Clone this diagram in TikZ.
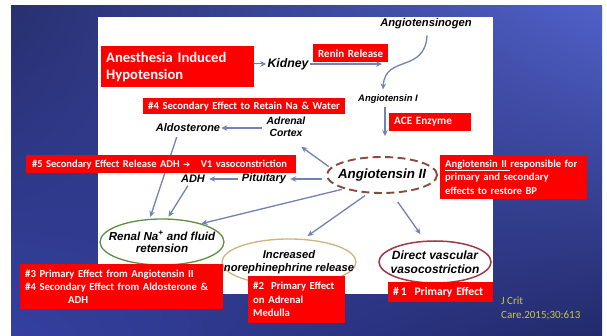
\documentclass[tikz,border=0pt]{standalone}
\usepackage{fontspec}
\setmainfont{Liberation Sans}
\newfontfamily\calib{Carlito}
\newfontfamily\djv{DejaVu Sans}
\usetikzlibrary{arrows.meta,shapes.geometric,calc,shadings}
\definecolor{arrc}{HTML}{7282B4}
\definecolor{citec}{HTML}{C8CC30}
\definecolor{ellbrown}{HTML}{8A4A3E}
\definecolor{ellgreen}{HTML}{5E8E40}
\definecolor{elltan}{HTML}{D2B27E}
\definecolor{ellred}{HTML}{A23848}
\definecolor{bgul}{HTML}{283070}
\definecolor{bgur}{HTML}{5060C8}
\definecolor{bgll}{HTML}{3440A0}
\definecolor{bglr}{HTML}{222A6A}
\tikzset{
  redbox/.style={fill=red, text=white, anchor=north west, align=left, inner xsep=5pt, inner ysep=0pt},
  lbl/.style={font=\bfseries\itshape\fontsize{#1}{#1}\selectfont, inner sep=1pt},
  arr/.style={draw=arrc, line width=1.3pt, -{Stealth[length=6pt,width=5.5pt]}},
  ell/.style={ellipse, inner sep=0pt},
}
\begin{document}
\begin{tikzpicture}[x=1pt,y=-1pt]
\useasboundingbox (0,0) rectangle (607,336);
\fill[white] (0,0) rectangle (607,336);
\shade[upper left=bgul, upper right=bgur, lower left=bgll, lower right=bglr]
  (11,6) rectangle (602,336);
\fill[white] (98,17) rectangle (493,294);

% ellipses (shape only) and their texts
\node[ell, draw=ellbrown, line width=1.9pt, dash pattern=on 8pt off 4.5pt, minimum width=110pt, minimum height=36pt]
  (ang2) at (382,175) {};
\node[lbl=13.3] (ang2txt) at (ang2) {Angiotensin II};
\node[ell, draw=ellgreen, line width=1.3pt, minimum width=124pt, minimum height=46pt] (renal) at (162,242) {};
\node[lbl=11.6, align=center] (renaltxt) at (renal) {Renal Na\textsuperscript{+} and fluid\\[1pt]retension};
\node[ell, draw=elltan, line width=1.3pt, minimum width=134pt, minimum height=46pt] (norepi) at (289,262) {};
\node[lbl=11.2, align=center] (norepitxt) at (norepi) {Increased\\[2pt]norephinephrine release};
\node[ell, draw=ellred, line width=1.5pt, minimum width=112pt, minimum height=42pt] (direct) at (435,262) {};
\node[lbl=12, align=center] (directtxt) at (direct) {Direct vascular\\[2pt]vasocostriction};

% text labels
\node[lbl=12.3] (kidney) at (288,64) {Kidney};
\node[lbl=11.2] (angiogen) at (426,24) {Angiotensinogen};
\node[lbl=9.4] (ang1) at (388,99) {Angiotensin I};
\node[lbl=10.4, align=center] (adrenal) at (286,127) {Adrenal\\[2pt]Cortex};
\node[lbl=11] (aldo) at (188,128) {Aldosterone};
\node[lbl=11] (adh) at (193,179) {ADH};
\node[lbl=11] (pit) at (264,179) {Pituitary};
\coordinate (reninend) at (382,64);

% arrows
\draw[arr] (kidney.east) -- (reninend);
\draw[arr] (angiogen.south) ++(1,5) .. controls ++(-2,38) and ++(2,-35) .. ($(ang1.north)+(-5,-4)$);
\draw[arr, shorten <=2pt, shorten >=20pt] ($(ang1.south)+(-3,0)$) -- ($(ang1.south |- ang2.north)+(-3,0)$);
\draw[arr, shorten <=3pt] (adrenal.west |- aldo) -- (aldo.east);
\draw[arr, shorten <=2pt, shorten >=1pt] (ang2.172) -- ($(adrenal.south east)+(-6,8)$);
\draw[arr, shorten <=4pt, shorten >=3pt] (ang2.west |- pit) -- (pit.east);
\draw[arr, shorten <=3pt, shorten >=3pt] (pit.west) -- (adh.east);
\draw[arr, shorten <=2pt] (ang2.200) -- (renal.25);
\draw[arr, shorten <=4pt, shorten >=5pt] (ang2.233) -- (norepi.58);
\draw[arr, shorten <=10pt, shorten >=8pt] (ang2.-62) -- (direct.115);
\draw[arr, shorten <=4pt, shorten >=2pt] ($(aldo.south)+(-10,0)$) -- (renal.118);
\draw[arr, shorten <=2pt, shorten >=2pt] ($(adh.south)+(-4,0)$) -- (renal.77);

% red boxes
\node[redbox, text width=143pt, minimum height=41pt, font=\calib\bfseries\fontsize{14.6}{17}\selectfont]
  (anes) at (101,46) {\mbox{Anesthesia Induced}\\Hypotension};
\draw[arr, line width=1pt] (anes.east |- kidney.west) -- (kidney.west);
\node[redbox, text width=65pt, minimum height=18pt, font=\calib\bfseries\fontsize{11}{12}\selectfont]
  (renin) at (313,44) {\mbox{Renin Release}};
\node[redbox, text width=72pt, minimum height=18pt, font=\calib\bfseries\fontsize{11.2}{12}\selectfont]
  (ace) at (389,113) {\mbox{ACE Enzyme}};
\node[redbox, text width=192pt, minimum height=16pt, font=\calib\bfseries\fontsize{10.7}{12}\selectfont]
  (sec4) at (143,98) {\mbox{\#4 Secondary Effect to Retain Na \& Water}};
\node[redbox, inner xsep=5pt, text width=260pt, minimum height=18pt, font=\calib\bfseries\fontsize{10.5}{12}\selectfont]
  (sec5) at (26,155) {\mbox{\hspace*{1pt}\#5 Secondary Effect Release ADH {\djv\fontsize{8.5}{10}\selectfont ➔}\ \ \ V1 vasoconstriction}};
\node[redbox, text width=137pt, minimum height=44pt, font=\calib\bfseries\fontsize{10.6}{13.5}\selectfont]
  (ang2box) at (440,155) {\mbox{\underline{Angiotensin II\ }responsible for}\\primary and secondary\\effects to restore BP};
\node[redbox, text width=193pt, minimum height=45pt, font=\calib\bfseries\fontsize{10.7}{13}\selectfont]
  (prim3) at (20,264) {\mbox{\#3 Primary Effect from Angiotensin II}\\\mbox{\#4 Secondary Effect from Aldosterone \&}\\\hspace*{43pt}ADH};
\node[redbox, text width=87pt, minimum height=47pt, font=\calib\bfseries\fontsize{10.7}{13.5}\selectfont]
  (prim2) at (248,276) {\mbox{\#2\ \ Primary Effect}\\on Adrenal\\Medulla};
\node[redbox, text width=95pt, minimum height=20pt, font=\calib\bfseries\fontsize{11.6}{12}\selectfont]
  (prim1) at (388,282) {\mbox{\#\,1\ \ Primary Effect}};

% citation
\node[anchor=north west, align=left, text=citec, inner sep=0pt, font=\calib\fontsize{11}{14}\selectfont]
  (cite) at (501,297) {J Crit\\Care.2015;30:613};
\end{tikzpicture}
\end{document}
